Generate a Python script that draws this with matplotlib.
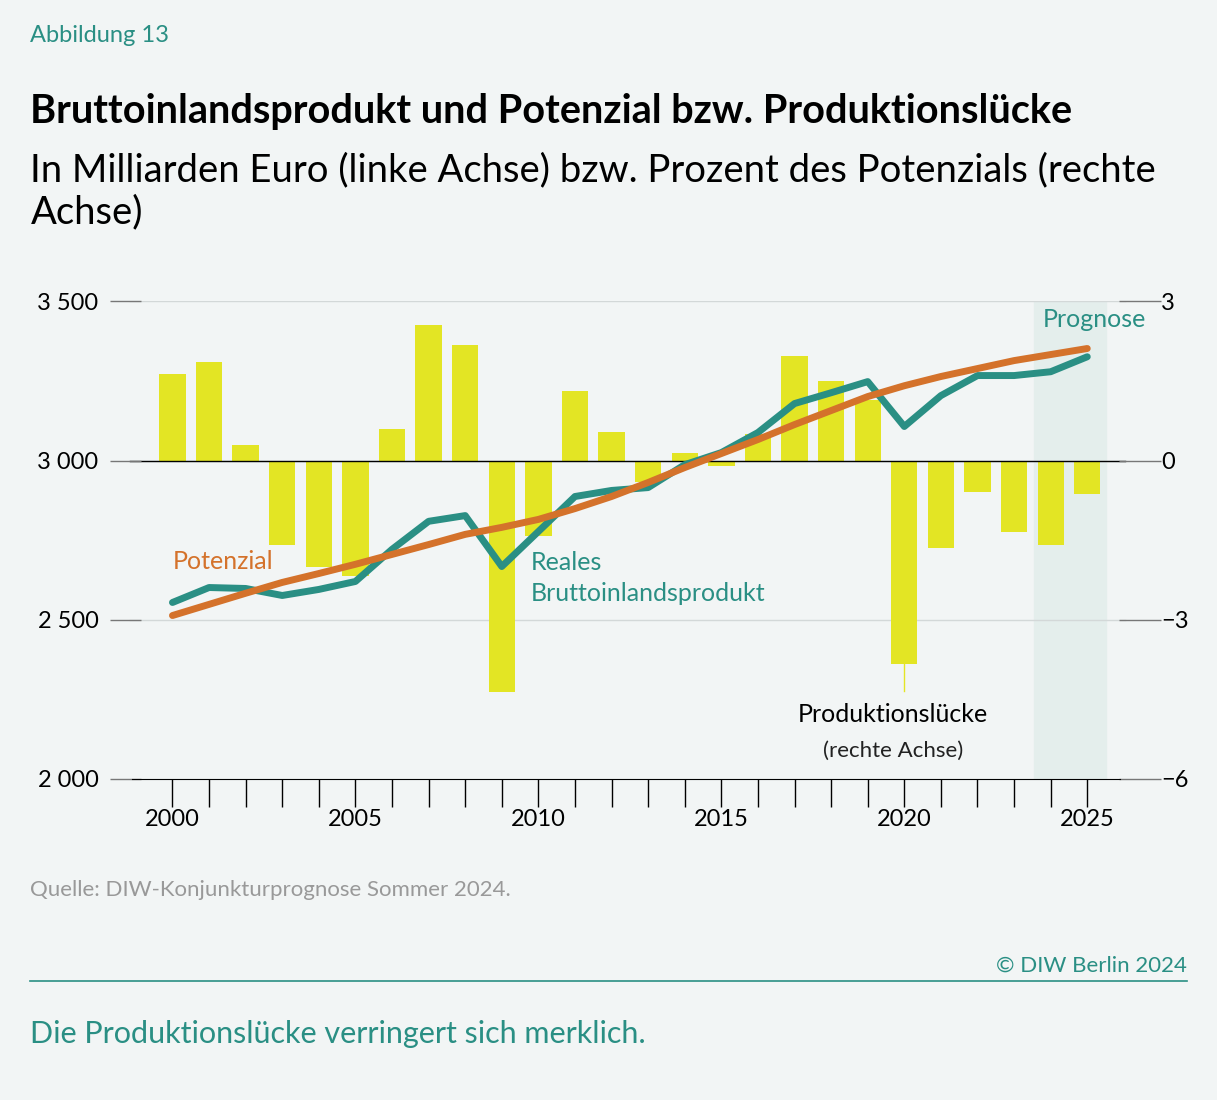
import numpy as np
import matplotlib.pyplot as plt

plt.rcParams['font.family'] = ['Lato', 'DejaVu Sans']

years = np.arange(2000, 2026)
gap = [1.64, 1.86, 0.30, -1.60, -2.00, -2.18, 0.60, 2.56, 2.18, -4.37, -1.43, 1.32, 0.53,
       -0.40, 0.15, -0.10, 0.50, 1.98, 1.50, 1.15, -3.84, -1.64, -0.60, -1.34, -1.60, -0.64]
bip = [2554, 2601, 2598, 2576, 2595, 2620, 2721, 2809, 2827, 2667, 2777, 2887, 2906,
       2915, 2987, 3025, 3088, 3179, 3213, 3248, 3107, 3204, 3267, 3267, 3279, 3326]
potenzial = [2513, 2548, 2583, 2617, 2645, 2674, 2705, 2736, 2768, 2790, 2815, 2849, 2887,
             2931, 2978, 3022, 3066, 3113, 3157, 3201, 3235, 3264, 3289, 3314, 3333, 3352]
left_ticks = [2000, 2500, 3000, 3500]
right_ticks = [-6, -3, 0, 3]

bg = '#f2f5f5'
teal = '#2a8f84'
orange = '#d4722b'
yellow = '#e3e524'

fig = plt.figure(figsize=(12.17, 11), dpi=100, facecolor=bg)
ax = fig.add_axes([0.090, 0.292, 0.847, 0.434])
ax.set_facecolor(bg)
ax2 = ax.twinx()
ax.set_zorder(2)
ax.patch.set_visible(False)

ax.set_xlim(1998.28, 2026.45)
ax.set_ylim(2000, 3500)
ax2.set_ylim(-6, 3)

ax2.axvspan(2023.55, 2025.5, ymax=1.0, color='#e4eeec', zorder=0)
for t in right_ticks[1:]:
    ax2.axhline(t, xmin=0.02, xmax=0.985, color='#d3d8d8', lw=1, zorder=0.5)
ax2.bar(years, gap, width=0.72, color=yellow, zorder=1)
ax2.axhline(0, xmin=0.02, xmax=0.985, color='black', lw=1, zorder=1.5)
ax2.plot([2020, 2020], [-3.84, -4.35], color=yellow, lw=1)

ax.plot(years, bip, color=teal, lw=5, solid_capstyle='round', solid_joinstyle='round')
ax.plot(years, potenzial, color=orange, lw=5, solid_capstyle='round', solid_joinstyle='round')

for a in (ax, ax2):
    for s in a.spines.values():
        s.set_visible(False)
ax.spines['bottom'].set_visible(True)
ax.spines['bottom'].set_bounds(1998.9, 2025.9)

ax.set_xticks(years, minor=True)
ax.set_xticks(np.arange(2000, 2026, 5))
ax.tick_params(axis='x', which='both', length=20, width=1, labelsize=17, pad=2)
ax.tick_params(axis='y', direction='in', length=22, width=1, color='#777777', labelsize=17, pad=8)
ax.set_yticks(left_ticks)
ax.set_yticklabels(['2 000', '2 500', '3 000', '3 500'])
ax2.set_yticks(right_ticks)
ax2.set_yticklabels(['\u22126', '\u22123', '0', '3'])
ax2.tick_params(axis='y', direction='inout', length=30, width=1, color='#777777', labelsize=17, pad=0)

ax.text(2000, 2660, 'Potenzial', color=orange, fontsize=18)
ax.text(2009.8, 2560, 'Reales\nBruttoinlandsprodukt', color=teal, fontsize=18, linespacing=1.4)
ax.text(2025.2, 3420, 'Prognose', color=teal, fontsize=18, ha='center')
ax.text(2019.7, 2180, 'Produktionslücke', color='black', fontsize=18, ha='center')
ax.text(2019.7, 2070, '(rechte Achse)', color='#222222', fontsize=16, ha='center')

fig.text(0.025, 0.962, 'Abbildung 13', color=teal, fontsize=17)
fig.text(0.025, 0.888, 'Bruttoinlandsprodukt und Potenzial bzw. Produktionslücke',
         fontsize=28.5, fontweight='bold')
fig.text(0.025, 0.797, 'In Milliarden Euro (linke Achse) bzw. Prozent des Potenzials (rechte\nAchse)',
         fontsize=27.5, linespacing=1.2)
fig.text(0.025, 0.185, 'Quelle: DIW-Konjunkturprognose Sommer 2024.', color='#999999', fontsize=16)
fig.text(0.975, 0.117, '© DIW Berlin 2024', color=teal, fontsize=16, ha='right')
fig.add_artist(plt.Line2D([0.025, 0.975], [0.108, 0.108], color=teal, lw=1.2))
fig.text(0.025, 0.052, 'Die Produktionslücke verringert sich merklich.', color=teal, fontsize=22)

fig.savefig('out.png', dpi=100, facecolor=bg)
